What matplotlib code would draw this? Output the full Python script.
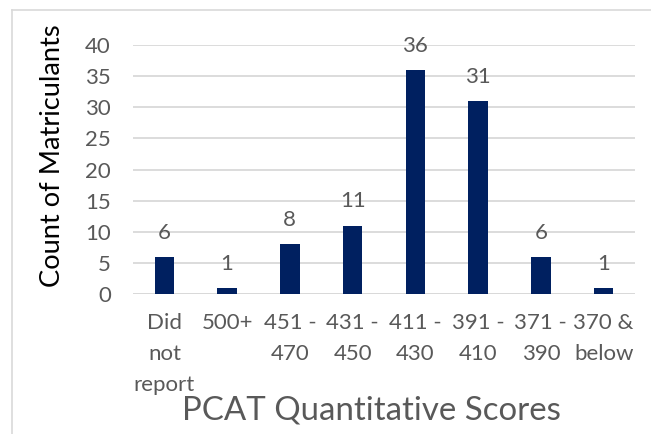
#!/usr/bin/env python3

import matplotlib
matplotlib.use('Agg')
import matplotlib.pyplot as plt

categories = ['Did\nnot\nreport', '500+', '451 -\n470', '431 -\n450',
              '411 -\n430', '391 -\n410', '371 -\n390', '370 &\nbelow']
counts = [6, 1, 8, 11, 36, 31, 6, 1]
yticks = [0, 5, 10, 15, 20, 25, 30, 35, 40]

plt.rcParams['font.family'] = ['Lato', 'DejaVu Sans']
grey = '#595959'

fig = plt.figure(figsize=(6.51, 4.34), dpi=100)
W, H = 651, 434
ax = fig.add_axes([133 / W, 1 - 294 / H, 502 / W, (294 - 45) / H])

x = range(len(categories))
bars = ax.bar(x, counts, width=0.31, color='#002060', zorder=3)
for b, v in zip(bars, counts):
	ax.text(b.get_x() + b.get_width() / 2, v + 2.9, str(v), ha='center', va='baseline',
	        fontsize=16, color=grey)

ax.set_xlim(-0.5, len(categories) - 0.5)
ax.set_ylim(0, 40)
ax.set_yticks(yticks)
ax.set_yticklabels([str(t) for t in yticks], fontsize=16, color=grey)
ax.set_xticks(list(x))
ax.set_xticklabels(categories, fontsize=16, color=grey, linespacing=1.68, va='top')
ax.tick_params(length=0)
ax.tick_params(axis='y', pad=16)
ax.tick_params(axis='x', pad=14)
ax.yaxis.grid(True, color='#D9D9D9', linewidth=1.3, zorder=0)
for s in ax.spines.values():
	s.set_visible(False)
ax.axhline(0, color='#D9D9D9', linewidth=1.3, zorder=2)

fig.text(53 / W, 1 - 156 / H, 'Count of Matriculants', rotation=90, ha='center', va='center',
         fontsize=19.6, color='black')
fig.text(371 / W, 1 - 411 / H, 'PCAT Quantitative Scores', ha='center', va='center',
         fontsize=23.8, color=grey)

# chart frame (left and top edges visible)
fig.add_artist(plt.Line2D([12 / W, 12 / W], [0, 1 - 10 / H], transform=fig.transFigure,
                          color='#D9D9D9', linewidth=1.2))
fig.add_artist(plt.Line2D([12 / W, 1], [1 - 10 / H, 1 - 10 / H], transform=fig.transFigure,
                          color='#D9D9D9', linewidth=1.2))

plt.savefig('out.png', dpi=100)
